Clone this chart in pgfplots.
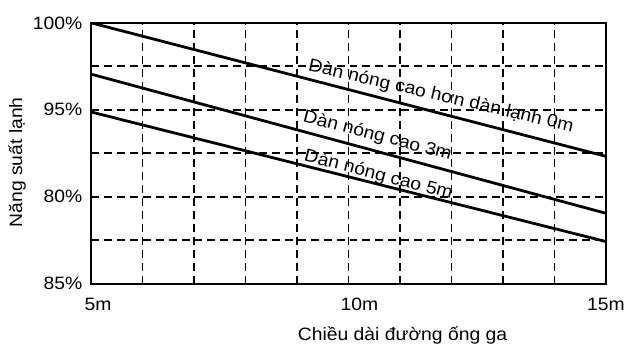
\documentclass[border=0pt]{standalone}
\usepackage{fontspec}
\setmainfont{Liberation Sans}[FakeStretch=1.08]
\usepackage{pgfplots}
\pgfplotsset{compat=1.18}
\begin{document}
\begin{tikzpicture}[font=\fontsize{18}{21}\selectfont]
\begin{axis}[
  scale only axis, width=518pt, height=262.5pt,
  xmin=5, xmax=15, ymin=0, ymax=6,
  axis line style={black, line width=2pt},
  xtick={5,...,15}, xticklabels={\hspace*{14pt}5m,,,,,\hspace*{22pt}10m,,,,,15m},
  ytick={0,...,6}, yticklabels={85\%,,80\%,,95\%,,100\%},
  xtick pos=bottom, ytick pos=left,
  tick align=inside, major tick length=4pt,
  tick style={black, line width=1.4pt},
  grid=major, grid style={black, line width=1.7pt, dash pattern=on 8pt off 5pt},
  tick label style={font=\fontsize{18}{21}\selectfont},
  label style={font=\fontsize{18}{21}\selectfont},
  xticklabel style={yshift=-11pt},
  yticklabel style={xshift=-5.4pt},
  xlabel={Chiều dài đường ống ga}, ylabel={Năng suất lạnh},
  xlabel style={at={(axis description cs:0.605,0)}, anchor=base, yshift=-57.5pt},
  ylabel style={at={(axis description cs:-0.144,0.465)}, anchor=center},
]
\addplot[black, line width=2.8pt] coordinates {(5,6) (15,2.93)};
\addplot[black, line width=2.8pt] coordinates {(5,4.82) (15,1.62)};
\addplot[black, line width=2.8pt] coordinates {(5,3.95) (15,0.97)};
\node[anchor=base west, rotate=-13, inner sep=0pt] at (axis cs:9.2,4.9) {Dàn nóng cao hơn dàn lạnh 0m};
\node[anchor=base west, rotate=-14.5, inner sep=0pt] at (axis cs:9.1,3.73) {Dàn nóng cao 3m};
\node[anchor=base west, rotate=-14.5, inner sep=0pt] at (axis cs:9.12,2.83) {Dàn nóng cao 5m};
\end{axis}
\path (-91.7pt,-64.5pt) rectangle (536.3pt,285.5pt);
\end{tikzpicture}
\end{document}
